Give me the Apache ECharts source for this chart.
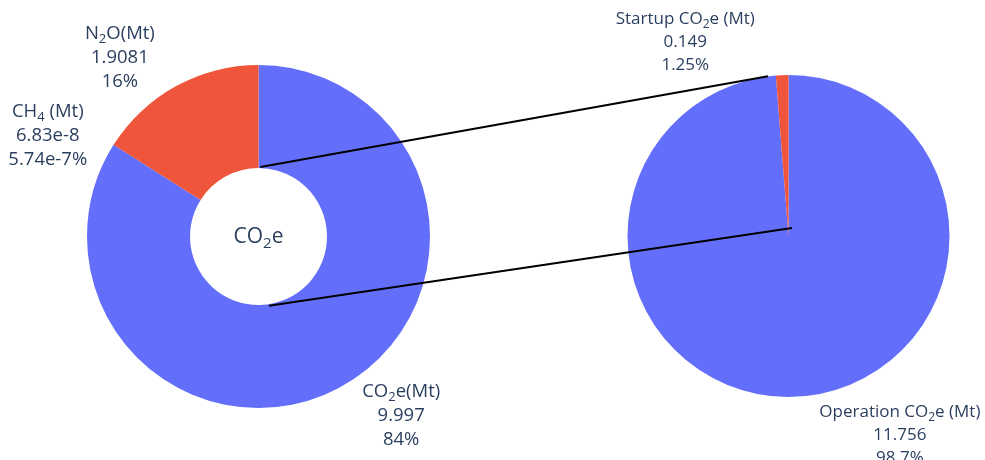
<!DOCTYPE html>
<html>
<head>
<meta charset="utf-8">
<script src="https://cdn.jsdelivr.net/npm/echarts@6/dist/echarts.min.js"></script>
<style>
  html, body { margin: 0; padding: 0; background: #ffffff; }
  #chart { width: 985px; height: 460px; }
</style>
</head>
<body>
<div id="chart"></div>
<script>
// Emissions by gas (left donut)
const gasCategories = ['CO2e', 'CH4', 'N2O'];
const gasNameParts = [['CO', '2', 'e(Mt)'], ['CH', '4', ' (Mt)'], ['N', '2', 'O(Mt)']];
const gasValues = [9.997, 6.83e-8, 1.9081];
const gasPercentText = ['84%', '5.74e-7%', '16%'];

// CO2e by phase (right pie)
const phaseCategories = ['Operation CO2e', 'Startup CO2e'];
const phaseNameParts = [['Operation CO', '2', 'e (Mt)'], ['Startup CO', '2', 'e (Mt)']];
const phaseValues = [11.756, 0.149];
const phasePercentText = ['98.7%', '1.25%'];

// Text in the donut hole
const holeText = ['CO', '2', 'e'];

// Layout and styling
const BLUE = '#636efa';
const RED = '#ef553b';
const INK = '#2a3f5f';
const FONT = '"Open Sans", "Noto Sans", sans-serif';

const LEFT = { cx: 258.5, cy: 236.5, r0: 68.5, r: 171.5 };
const RIGHT = { cx: 788.5, cy: 236, r: 161 };

const gasColors = [BLUE, BLUE, RED];
const phaseColors = [BLUE, RED];
const gasLabelLines = [{ length: 33, length2: 0 }, { length: 17, length2: 7 }, { length: 33, length2: 0 }];
const phaseLabelLines = [{ length: 38, length2: 18 }, { length: 33, length2: 21 }];

function richFor(size, subSize, lineHeight) {
  return {
    t: { fontFamily: FONT, fontSize: size, lineHeight: lineHeight, color: INK, align: 'center' },
    s: { fontFamily: FONT, fontSize: subSize, lineHeight: subSize, color: INK, align: 'center', verticalAlign: 'bottom' }
  };
}

function nameLine(parts) {
  return '{t|' + parts[0] + '}{s|' + parts[1] + '}{t|' + parts[2] + '}';
}

function labelText(nameParts, values, pctText) {
  return function (p) {
    const i = p.dataIndex;
    return nameLine(nameParts[i]) + '\n{t|' + String(values[i]) + '}\n{t|' + pctText[i] + '}';
  };
}

function polar(p, angleDeg, radius) {
  const a = angleDeg * Math.PI / 180;
  return [p.cx + radius * Math.cos(a), p.cy - radius * Math.sin(a)];
}

// Connectors between the donut hole and the phase pie
const connectors = [
  { from: polar(LEFT, 88.5, LEFT.r0 + 1), to: polar(RIGHT, 97.3, RIGHT.r) },
  { from: polar(LEFT, -81.4, LEFT.r0 + 1.5), to: polar(RIGHT, 66.4, RIGHT.r * 0.054) }
];

const chart = echarts.init(document.getElementById('chart'), null, { renderer: 'canvas' });

chart.setOption({
  animation: false,
  backgroundColor: '#ffffff',
  textStyle: { fontFamily: FONT },
  series: [
    {
      type: 'pie',
      center: [LEFT.cx, LEFT.cy],
      radius: [LEFT.r0, LEFT.r],
      startAngle: 90,
      clockwise: true,
      avoidLabelOverlap: false,
      minShowLabelAngle: 0,
      itemStyle: { borderWidth: 0 },
      label: {
        show: true,
        position: 'outside',
        distanceToLabelLine: 5,
        formatter: labelText(gasNameParts, gasValues, gasPercentText),
        rich: richFor(18.5, 13, 24)
      },
      labelLine: { show: false, length: 33, length2: 0 },
      emphasis: { disabled: true },
      data: gasValues.map(function (v, i) {
        return {
          name: gasCategories[i],
          value: v,
          itemStyle: { color: gasColors[i] },
          labelLine: gasLabelLines[i]
        };
      })
    },
    {
      type: 'pie',
      center: [RIGHT.cx, RIGHT.cy],
      radius: [0, RIGHT.r],
      startAngle: 90,
      clockwise: true,
      avoidLabelOverlap: false,
      minShowLabelAngle: 0,
      itemStyle: { borderWidth: 0 },
      label: {
        show: true,
        position: 'outside',
        distanceToLabelLine: 5,
        formatter: labelText(phaseNameParts, phaseValues, phasePercentText),
        rich: richFor(17, 12, 23)
      },
      labelLine: { show: false, length: 33, length2: 20 },
      emphasis: { disabled: true },
      data: phaseValues.map(function (v, i) {
        return {
          name: phaseCategories[i],
          value: v,
          itemStyle: { color: phaseColors[i] },
          labelLine: phaseLabelLines[i]
        };
      })
    }
  ],
  graphic: connectors.map(function (c) {
    return {
      type: 'line',
      z: 100,
      silent: true,
      shape: { x1: c.from[0], y1: c.from[1], x2: c.to[0], y2: c.to[1] },
      style: { stroke: '#000000', lineWidth: 2 }
    };
  }).concat([{
    type: 'text',
    z: 100,
    silent: true,
    x: LEFT.cx,
    y: LEFT.cy + 1,
    style: {
      text: '{a|' + holeText[0] + '}{b|' + holeText[1] + '}{a|' + holeText[2] + '}',
      align: 'center',
      verticalAlign: 'middle',
      rich: {
        a: { fontFamily: FONT, fontSize: 21, lineHeight: 28, fill: INK, color: INK },
        b: { fontFamily: FONT, fontSize: 15, lineHeight: 15, fill: INK, color: INK, verticalAlign: 'bottom' }
      }
    }
  }])
});
</script>
</body>
</html>
